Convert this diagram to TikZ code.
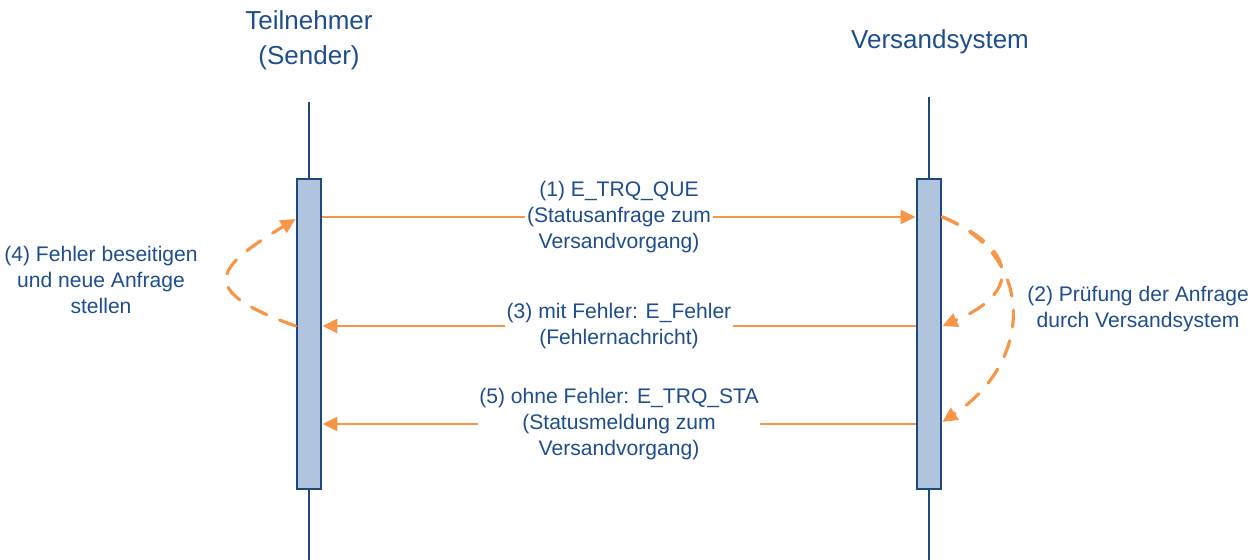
\documentclass[tikz,border=0pt]{standalone}
\usepackage{fontspec}
\setmainfont{Liberation Sans}
\usetikzlibrary{arrows.meta}

\definecolor{textblau}{RGB}{31,78,140}
\definecolor{linienblau}{RGB}{31,73,125}
\definecolor{boxblau}{RGB}{176,196,222}
\definecolor{pfeilorange}{RGB}{247,150,70}

\begin{document}
\begin{tikzpicture}[x=0.02cm, y=-0.02cm,
  txt/.style={text=textblau, font=\fontsize{12}{14.8}\selectfont, align=center},
  titel/.style={text=textblau, font=\fontsize{14.8}{20}\selectfont, align=center},
  leben/.style={linienblau, line width=1.4pt},
  aktiv/.style={draw=linienblau, fill=boxblau, line width=1.6pt, minimum width=0.48cm, minimum height=6.2cm, inner sep=0pt},
  msg/.style={pfeilorange, line width=1.5pt, -{Triangle[length=0.3cm, width=0.28cm]}},
  schleife/.style={pfeilorange, line width=1.8pt, line cap=round, dash pattern=on 0.34cm off 0.28cm, -{Triangle[length=0.3cm, width=0.28cm]}},
  msglabel/.style={txt, fill=white, inner xsep=1pt, inner ysep=0pt}]
  \useasboundingbox (0,0) rectangle (1253,560);

  % 标题
  \node[titel] (sender) at (309,40) {Teilnehmer\\(Sender)};
  \node[titel] (system) at (940,42) {Versandsystem};

  % 生命线
  \coordinate (lo) at (309,102);
  \coordinate (lu) at (309,560);
  \coordinate (ro) at (929,97);
  \coordinate (ru) at (929,560);
  \draw[leben] (lo) -- (lu);
  \draw[leben] (ro) -- (ru);

  % 激活框
  \node[aktiv] (lbox) at (309,334) {};
  \node[aktiv] (rbox) at (929,334) {};

  % 消息
  \draw[msg] (lbox.east |- 0,217) -- node[msglabel] (m1)
    {(1) E\_TRQ\_QUE\\(Statusanfrage zum\\Versandvorgang)} (rbox.west |- 0,217);
  \draw[msg] (rbox.west |- 0,326) -- node[msglabel] (m3)
    {(3) mit Fehler: E\_Fehler\\(Fehlernachricht)} (lbox.east |- 0,326);
  \draw[msg] (rbox.west |- 0,424) -- node[msglabel] (m5)
    {(5) ohne Fehler: E\_TRQ\_STA\\(Statusmeldung zum\\Versandvorgang)} (lbox.east |- 0,424);

  % 虚线回路
  \draw[schleife] (rbox.east |- 0,217) .. controls (1020,250) and (1020,293) .. (rbox.east |- 0,326);
  \draw[schleife] (rbox.east |- 0,217) .. controls (1035,255) and (1035,360) .. (rbox.east |- 0,422);
  \draw[schleife] (lbox.west |- 0,326) .. controls (195,290) and (215,268) .. (lbox.west |- 0,219);

  % 说明
  \node[txt] (pruefung) at (1138,309) {(2) Prüfung der Anfrage\\durch Versandsystem};
  \node[txt] (beseitigen) at (101,280) {(4) Fehler beseitigen\\und neue Anfrage\\stellen};
\end{tikzpicture}
\end{document}
